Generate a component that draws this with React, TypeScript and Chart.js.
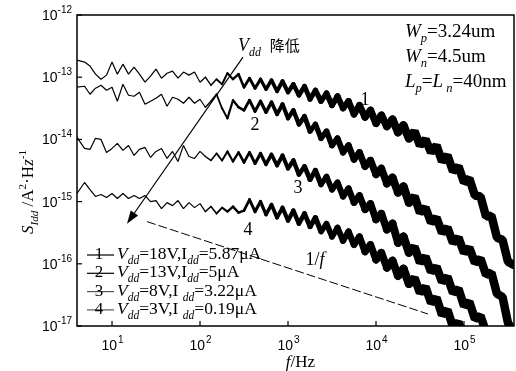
import React, { useEffect, useRef } from "react";
import { Chart, registerables } from "chart.js";
Chart.register(...registerables);

// Frequency samples (Hz)
const freqHz = [
  4, 4.87, 5.62, 6.49, 7.5, 8.66, 10, 11.5, 13.3, 15.4, 17.8, 20.5,
  23.7, 27.4, 31.6, 36.5, 42.2, 48.7, 56.2, 64.9, 75, 86.6, 100, 115, 133, 154, 178, 205,
  237, 274, 316, 365, 422, 487, 562, 649, 750, 866, 1000, 1150, 1330, 1540, 1780, 2050,
  2370, 2740, 3160, 3650, 4220, 4870, 5620, 6490, 7500, 8660, 10000, 11500, 13300, 15400, 17800, 20500,
  23700, 27400, 31600, 36500, 42200, 48700, 56200, 64900, 75000, 86600, 100000, 115000, 133000, 154000, 178000, 205000,
  237000, 274000, 316000, 365000,
];

// S_Idd (A^2/Hz) for each curve
const curve1 = [
  1.88e-13, 1.75e-13, 1.51e-13, 1.12e-13, 9.28e-14, 1.08e-13, 1.75e-13, 1.12e-13, 1.62e-13, 1.12e-13, 1.45e-13, 1.12e-13,
  8.31e-14, 1.04e-13, 1.35e-13, 9.63e-14, 1.16e-13, 1.25e-13, 9.63e-14, 1.21e-13, 1.08e-13, 1.21e-13, 8.31e-14, 1.0e-13, 7.43e-14, 9.28e-14, 7.71e-14, 1.16e-13,
  9.28e-14, 1.12e-13, 6.9e-14, 9.63e-14, 6.65e-14, 9.28e-14, 6.41e-14, 8.95e-14, 5.95e-14, 8.62e-14, 5.73e-14, 7.71e-14, 5.13e-14, 7.16e-14, 4.42e-14, 6.17e-14,
  4.11e-14, 5.52e-14, 3.54e-14, 4.94e-14, 3.16e-14, 4.11e-14, 2.53e-14, 3.54e-14, 2.27e-14, 2.94e-14, 1.81e-14, 2.44e-14, 1.62e-14, 2.1e-14, 1.3e-14, 1.68e-14,
  1.04e-14, 1.35e-14, 8.0e-15, 1.0e-14, 6.17e-15, 8.0e-15, 4.42e-15, 5.52e-15, 3.05e-15, 3.67e-15, 2.03e-15, 2.35e-15, 1.25e-15, 1.21e-15, 5.73e-16, 5.95e-16,
  2.63e-16, 2.44e-16, 1.08e-16, 9.63e-17,
];
const curve2 = [
  6.9e-14, 7.16e-14, 5.32e-14, 6.65e-14, 7.43e-14, 6.17e-14, 6.9e-14, 4.11e-14, 7.71e-14, 5.13e-14, 4.94e-14, 5.73e-14,
  3.67e-14, 4.11e-14, 4.59e-14, 5.32e-14, 3.41e-14, 4.76e-14, 4.42e-14, 3.81e-14, 4.76e-14, 3.81e-14, 4.42e-14, 3.29e-14, 4.11e-14, 5.32e-14, 3.16e-14, 2.18e-14,
  4.26e-14, 3.29e-14, 2.94e-14, 4.26e-14, 2.83e-14, 4.11e-14, 2.73e-14, 3.96e-14, 2.53e-14, 3.67e-14, 2.18e-14, 2.94e-14, 1.75e-14, 2.35e-14, 1.35e-14, 1.75e-14,
  1.04e-14, 1.35e-14, 8.0e-15, 1.04e-14, 6.17e-15, 8.0e-15, 4.76e-15, 6.17e-15, 3.67e-15, 4.59e-15, 2.73e-15, 3.41e-15, 1.95e-15, 2.44e-15, 1.4e-15, 1.75e-15,
  9.63e-16, 1.21e-15, 6.65e-16, 8.0e-16, 4.59e-16, 5.52e-16, 3.16e-16, 3.81e-16, 2.18e-16, 2.63e-16, 1.51e-16, 1.81e-16, 1.04e-16, 1.21e-16, 6.65e-17, 7.16e-17,
  3.29e-17, 2.94e-17, 1.12e-17, 8.3e-18,
];
const curve3 = [
  1.08e-14, 7.16e-15, 6.9e-15, 1.04e-14, 1.0e-14, 6.17e-15, 7.16e-15, 8.62e-15, 6.65e-15, 8.0e-15, 5.52e-15, 6.9e-15,
  7.43e-15, 5.13e-15, 6.41e-15, 7.16e-15, 4.94e-15, 6.41e-15, 4.42e-15, 8.0e-15, 5.32e-15, 4.94e-15, 6.41e-15, 5.32e-15, 4.59e-15, 5.95e-15, 4.59e-15, 6.41e-15,
  4.42e-15, 6.17e-15, 4.26e-15, 6.17e-15, 4.11e-15, 5.95e-15, 3.96e-15, 5.73e-15, 3.81e-15, 5.52e-15, 3.41e-15, 4.59e-15, 2.73e-15, 3.67e-15, 2.27e-15, 3.16e-15,
  1.88e-15, 2.53e-15, 1.56e-15, 2.03e-15, 1.21e-15, 1.62e-15, 9.63e-16, 1.25e-15, 7.43e-16, 9.28e-16, 5.13e-16, 6.41e-16, 3.54e-16, 4.42e-16, 2.18e-16, 2.73e-16,
  1.51e-16, 1.88e-16, 1.04e-16, 1.3e-16, 7.43e-17, 8.95e-17, 5.13e-17, 6.17e-17, 3.41e-17, 3.96e-17, 2.1e-17, 2.44e-17, 1.3e-17, 1.45e-17, 8.0e-18, 8.3e-18,
  4.6e-18, 4.0e-18,
];
const curve4 = [
  1.35e-15, 2.03e-15, 1.56e-15, 1.21e-15, 1.3e-15, 1.16e-15, 1.35e-15, 1.12e-15, 1.35e-15, 1.12e-15, 1.25e-15, 1.12e-15,
  1.25e-15, 1.0e-15, 1.04e-15, 7.71e-16, 9.63e-16, 8.62e-16, 1.04e-15, 7.71e-16, 9.63e-16, 8.0e-16, 9.28e-16, 6.9e-16, 8.31e-16, 6.41e-16, 8.0e-16, 6.9e-16,
  8.31e-16, 6.65e-16, 7.16e-16, 1.08e-15, 6.9e-16, 1.0e-15, 6.17e-16, 8.95e-16, 5.52e-16, 8.0e-16, 4.94e-16, 7.16e-16, 4.42e-16, 6.41e-16, 3.96e-16, 5.52e-16,
  3.29e-16, 4.42e-16, 2.73e-16, 3.81e-16, 2.35e-16, 3.29e-16, 2.03e-16, 2.73e-16, 1.56e-16, 2.03e-16, 1.16e-16, 1.51e-16, 8.62e-17, 1.12e-16, 6.41e-17, 8.31e-17,
  4.76e-17, 5.95e-17, 3.41e-17, 4.26e-17, 2.35e-17, 2.83e-17, 1.51e-17, 1.81e-17, 9.6e-18, 1.16e-17, 6.2e-18, 6.9e-18, 3.9e-18,
];

// 1/f guide line: [f, S]
const guideF = [25, 39000];
const guideS = [4.76e-16, 1.56e-17];

// Vdd arrow: start -> end [f, S]
const arrowF = [308, 14.8];
const arrowS = [2.1e-13, 4.42e-16];

const curveLabels = ["1", "2", "3", "4"];
const curveLabelF = [7500, 422, 1300, 351];
const curveLabelS = [4.26e-14, 1.68e-14, 1.62e-15, 3.4e-16];

const legendVdd = ["18V", "13V", "8V", "3V"];
const legendIdd = ["5.87\u03bcA", "5\u03bcA", "3.22\u03bcA", "0.19\u03bcA"];

const yTickExp = [-12, -13, -14, -15, -16, -17];
const xTickExp = [1, 2, 3, 4, 5];

const SERIF = '"Liberation Serif", "Times New Roman", serif';
const SANS = '"Liberation Sans", Arial, sans-serif';
const CJK = '"Noto Sans CJK SC", sans-serif';

type Seg = { t: string; i?: boolean; sub?: boolean; sup?: boolean; fam?: string; sz?: number };

function drawRich(
  ctx: CanvasRenderingContext2D,
  segs: Seg[],
  x: number,
  y: number,
  size: number,
  family: string,
  align: "left" | "center" | "right" = "left"
) {
  const fonts = segs.map((s) => {
    const sz = s.sz ?? (s.sub || s.sup ? size * 0.66 : size);
    return `${s.i ? "italic " : ""}${sz}px ${s.fam ?? family}`;
  });
  const widths = segs.map((s, k) => {
    ctx.font = fonts[k];
    return ctx.measureText(s.t).width;
  });
  const total = widths.reduce((a, b) => a + b, 0);
  let cx = align === "center" ? x - total / 2 : align === "right" ? x - total : x;
  ctx.textAlign = "left";
  ctx.textBaseline = "alphabetic";
  segs.forEach((s, k) => {
    ctx.font = fonts[k];
    const dy = s.sub ? size * 0.28 : s.sup ? -size * 0.42 : 0;
    ctx.fillText(s.t, cx, y + dy);
    cx += widths[k];
  });
}

function pts(vals: number[]) {
  return vals.map((v, k) => ({ x: freqHz[k], y: v }));
}

// line thickness grows with frequency, mimicking the dense spectral band
function segWidth(ctx: any) {
  const lf = Math.log10(ctx.p0.parsed.x);
  if (lf < 2) return 1.2;
  return Math.min(8.5, 1.2 + (lf - 2) * 3.1);
}

const overlay = {
  id: "overlay",
  afterDatasetsDraw(chart: any) {
    const { ctx, chartArea: ca, scales } = chart;
    const xs = scales.x;
    const ys = scales.y;
    ctx.save();
    ctx.fillStyle = "#000";
    ctx.strokeStyle = "#000";

    // frame
    ctx.lineWidth = 1.5;
    ctx.strokeRect(ca.left, ca.top, ca.right - ca.left, ca.bottom - ca.top);

    // y ticks + labels
    ctx.lineWidth = 1.2;
    yTickExp.forEach((e) => {
      const y = ys.getPixelForValue(Math.pow(10, e));
      ctx.beginPath();
      ctx.moveTo(ca.left, y);
      ctx.lineTo(ca.left + 5, y);
      ctx.stroke();
      ctx.font = `14px ${SANS}`;
      const w1 = ctx.measureText("10").width;
      ctx.font = `10px ${SANS}`;
      const es = String(e);
      const w2 = ctx.measureText(es).width;
      const x0 = ca.left - 5 - w1 - w2;
      ctx.textAlign = "left";
      ctx.textBaseline = "alphabetic";
      ctx.font = `14px ${SANS}`;
      ctx.fillText("10", x0, y + 5);
      ctx.font = `10px ${SANS}`;
      ctx.fillText(es, x0 + w1, y - 2);
    });

    // x ticks + labels
    xTickExp.forEach((e) => {
      const x = xs.getPixelForValue(Math.pow(10, e));
      ctx.beginPath();
      ctx.moveTo(x, ca.bottom);
      ctx.lineTo(x, ca.bottom - 5);
      ctx.stroke();
      ctx.font = `14px ${SANS}`;
      const w1 = ctx.measureText("10").width;
      ctx.font = `10px ${SANS}`;
      const es = String(e);
      const w2 = ctx.measureText(es).width;
      const x0 = x - (w1 + w2) / 2;
      ctx.font = `14px ${SANS}`;
      ctx.fillText("10", x0, ca.bottom + 24);
      ctx.font = `10px ${SANS}`;
      ctx.fillText(es, x0 + w1 + 1, ca.bottom + 17);
    });

    // axis titles
    drawRich(ctx, [{ t: "f", i: true }, { t: "/Hz" }], (ca.left + ca.right) / 2 + 5, ca.bottom + 41, 17, SERIF, "center");
    ctx.save();
    ctx.translate(33, ca.top + 177);
    ctx.rotate(-Math.PI / 2);
    drawRich(
      ctx,
      [
        { t: "S", i: true },
        { t: "Idd", i: true, sub: true },
        { t: " /A" },
        { t: "2", sup: true },
        { t: "\u00b7H" },
        { t: "z", i: true },
        { t: "-1", sup: true },
      ],
      0,
      0,
      17,
      SERIF,
      "center"
    );
    ctx.restore();

    // parameter text (top right)
    const tx = ca.left + 328;
    drawRich(ctx, [{ t: "W", i: true }, { t: "p", i: true, sub: true }, { t: "=3.24um" }], tx, ca.top + 22, 19, SERIF);
    drawRich(ctx, [{ t: "W", i: true }, { t: "n", i: true, sub: true }, { t: "=4.5um" }], tx, ca.top + 47, 19, SERIF);
    drawRich(
      ctx,
      [{ t: "L", i: true }, { t: "p", i: true, sub: true }, { t: "=" }, { t: "L", i: true }, { t: " n", i: true, sub: true }, { t: "=40nm" }],
      tx,
      ca.top + 72,
      19,
      SERIF
    );

    // Vdd decrease label
    const vx = xs.getPixelForValue(270);
    const vy = ys.getPixelForValue(3.3e-13);
    drawRich(
      ctx,
      [{ t: "V", i: true }, { t: "dd", i: true, sub: true }, { t: "  " }, { t: "\u964d\u4f4e", fam: CJK, sz: 15 }],
      vx,
      vy + 6,
      18,
      SERIF
    );

    // arrow
    const ax0 = xs.getPixelForValue(arrowF[0]);
    const ay0 = ys.getPixelForValue(arrowS[0]);
    const ax1 = xs.getPixelForValue(arrowF[1]);
    const ay1 = ys.getPixelForValue(arrowS[1]);
    const ang = Math.atan2(ay1 - ay0, ax1 - ax0);
    const hl = 13;
    const hw = 4.5;
    const bx = ax1 - hl * Math.cos(ang);
    const by = ay1 - hl * Math.sin(ang);
    ctx.lineWidth = 1.2;
    ctx.beginPath();
    ctx.moveTo(ax0, ay0);
    ctx.lineTo(bx, by);
    ctx.stroke();
    ctx.beginPath();
    ctx.moveTo(ax1, ay1);
    ctx.lineTo(bx + hw * Math.sin(ang), by - hw * Math.cos(ang));
    ctx.lineTo(bx - hw * Math.sin(ang), by + hw * Math.cos(ang));
    ctx.closePath();
    ctx.fill();

    // curve labels
    curveLabels.forEach((lab, k) => {
      const x = xs.getPixelForValue(curveLabelF[k]);
      const y = ys.getPixelForValue(curveLabelS[k]);
      ctx.font = `18px ${SERIF}`;
      ctx.textAlign = "center";
      ctx.textBaseline = "middle";
      ctx.fillText(lab, x, y);
    });

    // 1/f label
    const fx = xs.getPixelForValue(2030);
    const fy = ys.getPixelForValue(1.2e-16);
    drawRich(ctx, [{ t: "1/" }, { t: "f", i: true }], fx, fy + 6, 18, SERIF, "center");

    // legend
    legendVdd.forEach((v, k) => {
      const base = ca.top + 244 + k * 18.3;
      const ly = base - 4;
      ctx.strokeStyle = k < 2 ? "#000" : "#555";
      ctx.lineWidth = 1.2;
      ctx.beginPath();
      ctx.moveTo(ca.left + 10, ly);
      ctx.lineTo(ca.left + 37, ly);
      ctx.stroke();
      ctx.font = `17px ${SERIF}`;
      ctx.textAlign = "center";
      ctx.textBaseline = "alphabetic";
      ctx.fillText(curveLabels[k], ca.left + 22, base);
      const isp = k >= 2 ? " " : "";
      drawRich(
        ctx,
        [
          { t: "V", i: true },
          { t: "dd", i: true, sub: true },
          { t: "=" + v + ",I" + isp },
          { t: "dd", i: true, sub: true },
          { t: "=" + legendIdd[k] },
        ],
        ca.left + 40,
        base,
        17.5,
        SERIF
      );
    });

    ctx.restore();
  },
};

export default function App() {
  const ref = useRef<HTMLCanvasElement>(null);
  useEffect(() => {
    const canvas = ref.current!;
    const mk = (vals: number[]) => ({
      data: pts(vals),
      borderColor: "#000",
      borderWidth: 1.2,
      pointRadius: 0,
      tension: 0,
      clip: 0,
      borderJoinStyle: "bevel" as const,
      borderCapStyle: "round" as const,
      segment: { borderWidth: segWidth },
    });
    const chart = new Chart(canvas, {
      type: "line",
      data: {
        datasets: [
          mk(curve4),
          mk(curve3),
          mk(curve2),
          mk(curve1),
          {
            data: guideF.map((f, k) => ({ x: f, y: guideS[k] })),
            borderColor: "#000",
            borderWidth: 1,
            borderDash: [9, 3],
            pointRadius: 0,
            clip: 0,
          } as any,
        ],
      },
      options: {
        animation: false,
        responsive: false,
        events: [],
        layout: { padding: { top: 15, right: 2, left: 0, bottom: 0 } },
        plugins: { legend: { display: false }, tooltip: { enabled: false } },
        scales: {
          x: {
            type: "logarithmic",
            min: 4,
            max: 370000,
            ticks: { display: false },
            grid: { display: false },
            border: { display: false },
            afterFit: (s: any) => {
              s.height = 45;
            },
          },
          y: {
            type: "logarithmic",
            min: 1e-17,
            max: 1e-12,
            ticks: { display: false },
            grid: { display: false },
            border: { display: false },
            afterFit: (s: any) => {
              s.width = 77;
            },
          },
        },
      },
      plugins: [overlay],
    });
    return () => chart.destroy();
  }, []);
  return (
    <div style={{ position: "fixed", left: 0, top: 0, width: 516, height: 371, background: "#fff" }}>
      <canvas ref={ref} width={516} height={371} style={{ display: "block", width: 516, height: 371 }} />
    </div>
  );
}
